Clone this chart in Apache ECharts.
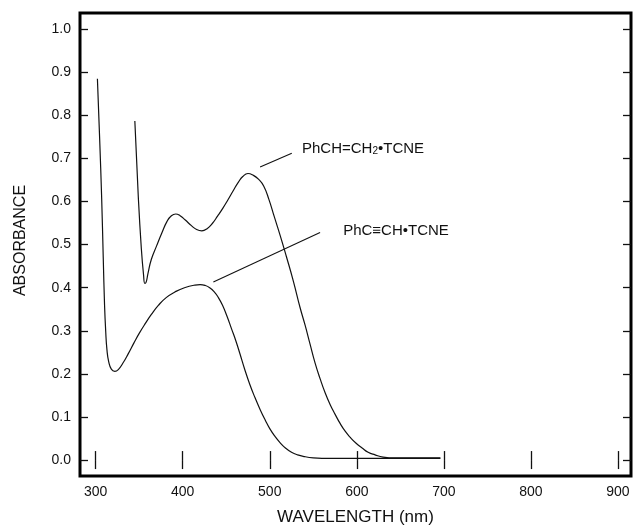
<!DOCTYPE html>
<html>
<head>
<meta charset="utf-8">
<script src="https://cdn.jsdelivr.net/npm/echarts@6/dist/echarts.min.js"></script>
<style>
html,body{margin:0;padding:0;background:#fff;}
#chart{width:634px;height:531px;}
</style>
</head>
<body>
<div id="chart"></div>
<script>
// Data (wavelength nm, absorbance)
const styreneTCNE = [
  [345, 0.787], [349, 0.61], [352.5, 0.49], [355, 0.43], [356.5, 0.41], [358, 0.413],
  [360, 0.432], [364, 0.466], [370, 0.497], [376, 0.527], [382, 0.554], [387, 0.567],
  [392, 0.571], [397, 0.567], [403, 0.557], [410, 0.544], [416, 0.535], [422, 0.532],
  [428, 0.537], [434, 0.549], [440, 0.566], [446, 0.584], [452, 0.604], [458, 0.625],
  [464, 0.645], [469, 0.658], [475, 0.665], [481, 0.661], [487, 0.652], [493, 0.636],
  [499, 0.605], [505, 0.566], [512, 0.521], [519, 0.473], [527, 0.416], [534.8, 0.354],
  [540.6, 0.313], [546.3, 0.269], [552.1, 0.225], [557.8, 0.189], [563.6, 0.156],
  [569.3, 0.129], [575.1, 0.106], [580.8, 0.085], [586.6, 0.067], [592.3, 0.053],
  [599.2, 0.039], [606.1, 0.028], [613, 0.018], [621, 0.012], [630.2, 0.007],
  [644, 0.005], [696, 0.005]
];
const phenylacetyleneTCNE = [
  [302, 0.885], [304.5, 0.75], [306.9, 0.607], [308.7, 0.47], [310.2, 0.36], [311.5, 0.30],
  [313, 0.255], [315, 0.228], [318, 0.211], [322, 0.206], [326, 0.21], [331, 0.224],
  [337.5, 0.247], [344, 0.272], [350, 0.294], [356.7, 0.316], [364, 0.338], [372, 0.359],
  [381, 0.377], [391, 0.39], [402, 0.40], [414, 0.406], [420, 0.407], [426, 0.405],
  [431, 0.40], [436, 0.391], [441, 0.377], [446, 0.358], [451, 0.333], [456, 0.305],
  [461, 0.277], [466, 0.245], [471, 0.212], [477, 0.176], [483, 0.145], [489, 0.117],
  [495, 0.092], [500, 0.073], [506, 0.055], [512, 0.040], [518, 0.028], [525, 0.018],
  [532, 0.012], [540, 0.008], [550, 0.005], [560, 0.004], [600, 0.004], [696, 0.004]
];
const xTicks = [300, 400, 500, 600, 700, 800, 900];
const yTicks = [0, 0.1, 0.2, 0.3, 0.4, 0.5, 0.6, 0.7, 0.8, 0.9, 1.0];
const labelStyrene = { text: 'PhCH=CH{sub|2}•TCNE', at: [537, 0.722] };
const labelAcetylene = { text: 'PhC≡CH•TCNE', at: [584.3, 0.531] };
const leaderStyrene = [[488.9, 0.680], [525.3, 0.712]];
const leaderAcetylene = [[435.2, 0.413], [557.8, 0.528]];

const FONT = "'Liberation Sans', Arial, Helvetica, sans-serif";
const INK = '#111';

const tickCommon = (vals, len) => ({
  show: true, inside: true, length: len, customValues: vals,
  lineStyle: { color: INK, width: 1.3 }
});

const chart = echarts.init(document.getElementById('chart'), null, { renderer: 'canvas' });
chart.setOption({
  animation: false,
  backgroundColor: '#fff',
  grid: {
    left: 80, top: 13, right: 3, bottom: 51,
    show: true, borderColor: '#000', borderWidth: 3, backgroundColor: 'transparent'
  },
  xAxis: [
    {
      type: 'value', min: 282, max: 915, position: 'bottom',
      axisLine: { show: false },
      axisTick: tickCommon(xTicks, 9),
      splitLine: { show: false },
      axisLabel: {
        customValues: xTicks, margin: 9, color: INK, fontFamily: FONT, fontSize: 14,
        formatter: v => String(Math.round(v))
      },
      name: 'WAVELENGTH (nm)', nameLocation: 'middle', nameGap: 33,
      nameTextStyle: { color: INK, fontFamily: FONT, fontSize: 17 }
    },
    {
      type: 'value', min: 282, max: 915, position: 'top',
      axisLine: { show: false },
      axisTick: tickCommon(xTicks, 9),
      splitLine: { show: false },
      axisLabel: { show: false }
    }
  ],
  yAxis: [
    {
      type: 'value', min: -0.037, max: 1.0375, position: 'left',
      axisLine: { show: false },
      axisTick: tickCommon(yTicks, 8),
      splitLine: { show: false },
      axisLabel: {
        customValues: yTicks, margin: 9, color: INK, fontFamily: FONT, fontSize: 14,
        formatter: v => v.toFixed(1)
      },
      name: 'ABSORBANCE', nameLocation: 'middle', nameGap: 51,
      nameTextStyle: { color: INK, fontFamily: FONT, fontSize: 16, padding: [0, 0, 0, 8] }
    },
    {
      type: 'value', min: -0.037, max: 1.0375, position: 'right',
      axisLine: { show: false },
      axisTick: tickCommon(yTicks, 8),
      splitLine: { show: false },
      axisLabel: { show: false }
    }
  ],
  series: [
    {
      name: 'PhCH=CH2·TCNE', type: 'line', data: styreneTCNE,
      smooth: 0.5,
      showSymbol: false, lineStyle: { color: INK, width: 1.2 },
      markLine: {
        silent: true, symbol: 'none', label: { show: false },
        lineStyle: { color: INK, width: 1.1, type: 'solid' },
        data: [[{ coord: leaderStyrene[0] }, { coord: leaderStyrene[1] }]]
      },
      markPoint: {
        silent: true, symbol: 'circle', symbolSize: 0,
        data: [{ coord: labelStyrene.at }],
        label: {
          show: true, position: 'right', distance: 0, formatter: labelStyrene.text,
          color: INK, fontFamily: FONT, fontSize: 15,
          rich: { sub: { fontSize: 10, verticalAlign: 'bottom', color: INK, fontFamily: FONT, padding: [4, 0, 0, 0] } }
        }
      }
    },
    {
      name: 'PhC≡CH·TCNE', type: 'line', data: phenylacetyleneTCNE,
      smooth: 0.5,
      showSymbol: false, lineStyle: { color: INK, width: 1.2 },
      markLine: {
        silent: true, symbol: 'none', label: { show: false },
        lineStyle: { color: INK, width: 1.1, type: 'solid' },
        data: [[{ coord: leaderAcetylene[0] }, { coord: leaderAcetylene[1] }]]
      },
      markPoint: {
        silent: true, symbol: 'circle', symbolSize: 0,
        data: [{ coord: labelAcetylene.at }],
        label: {
          show: true, position: 'right', distance: 0, formatter: labelAcetylene.text,
          color: INK, fontFamily: FONT, fontSize: 15
        }
      }
    }
  ]
});
</script>
</body>
</html>
